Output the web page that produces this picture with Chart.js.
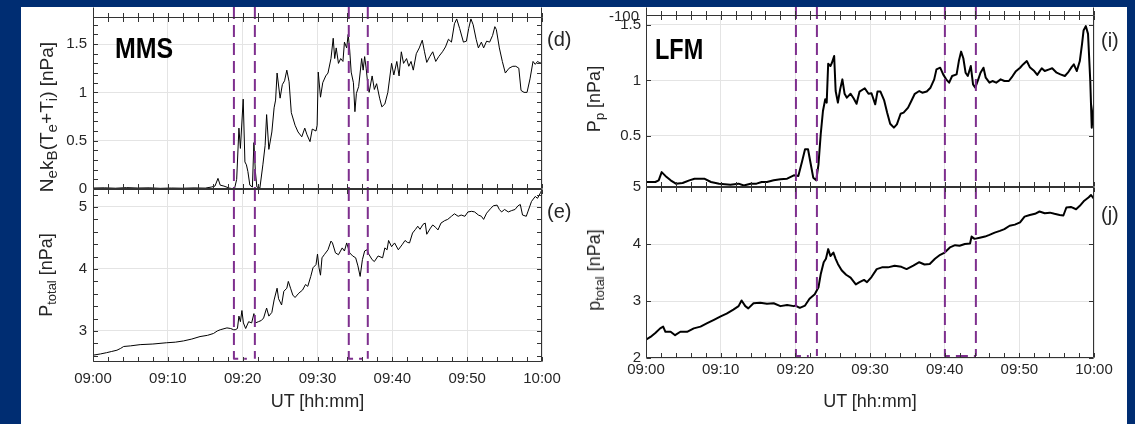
<!DOCTYPE html>
<html>
<head>
<meta charset="utf-8">
<script src="https://cdn.jsdelivr.net/npm/chart.js@4.4.1/dist/chart.umd.min.js"></script>
<style>
  body { margin:0; width:1135px; height:424px; background:#002d72; overflow:hidden; position:relative; }
  #sheet { position:absolute; left:21px; top:7px; width:1106px; height:417px; background:#fff; }
  canvas { position:absolute; }
  .lab { position:absolute; font-family:'Liberation Sans', Arial, sans-serif; color:#262626; white-space:nowrap; line-height:1; }
  .lab sub { font-size:0.72em; vertical-align:-0.32em; line-height:0; }
  .ytitle { font-size:18px; transform:translate(-50%,-50%) rotate(-90deg); }
  .ytitle.big { font-size:19px; }
  .ytitle.big sub { font-size:0.8em; }
  .xtitle { font-size:18px; transform:translateX(-50%); }
  .tag { font-size:20px; }
  .inst { font-size:29px; font-weight:bold; color:#000; transform-origin:0 0; }
</style>
</head>
<body>
<div id="sheet"></div>
<canvas id="cD" width="541" height="192" style="left:21px;top:7px"></canvas>
<canvas id="cE" width="541" height="217" style="left:21px;top:179px"></canvas>
<canvas id="cI" width="540" height="190" style="left:574px;top:7px"></canvas>
<canvas id="cJ" width="540" height="215" style="left:574px;top:177px"></canvas>

<div class="lab inst" style="left:115px;top:34px;transform:scaleX(0.86)">MMS</div>
<div class="lab inst" style="left:655px;top:35px;transform:scaleX(0.81)">LFM</div>
<div class="lab tag" style="left:547px;top:29px">(d)</div>
<div class="lab tag" style="left:547px;top:201px">(e)</div>
<div class="lab tag" style="left:1101px;top:30px">(i)</div>
<div class="lab tag" style="left:1101px;top:204px">(j)</div>
<div class="lab" style="font-size:15px;left:609px;top:8px">-100</div>
<div class="lab ytitle big" style="left:46px;top:117px">N<sub>e</sub>k<sub>B</sub>(T<sub>e</sub>+T<sub>i</sub>) [nPa]</div>
<div class="lab ytitle" style="left:46px;top:275px">P<sub>total</sub> [nPa]</div>
<div class="lab ytitle" style="left:594px;top:99px">P<sub>p</sub> [nPa]</div>
<div class="lab ytitle" style="left:594px;top:270px">p<sub>total</sub> [nPa]</div>
<div class="lab xtitle" style="left:317.5px;top:392px">UT [hh:mm]</div>
<div class="lab xtitle" style="left:870px;top:392px">UT [hh:mm]</div>

<script>
// time axis: minutes after 09:00
const xTickValues = [0, 10, 20, 30, 40, 50, 60];
const xTickLabels = ['09:00', '09:10', '09:20', '09:30', '09:40', '09:50', '10:00'];

const dYTicks = [0, 0.5, 1, 1.5];
const dYLabels = ['0', '0.5', '1', '1.5'];
const eYTicks = [3, 4, 5];
const eYLabels = ['3', '4', '5'];
const iYTicks = [0.5, 1, 1.5];
const iYLabels = ['0.5', '1', '1.5'];
const jYTicks = [2, 3, 4, 5];
const jYLabels = ['2', '3', '4', '5'];

// MMS thermal pressure Ne kB (Te+Ti)
const mmsThermT = [0, 1.5, 3, 4.5, 6, 7.5, 9, 10.5, 12, 13.5, 15, 15.8, 16.3, 16.7, 17.0, 17.5, 18.2, 18.9, 19.2, 19.5,
  19.7, 20.07, 20.3, 20.5, 20.7, 20.96, 21.3, 21.5, 21.7, 21.9, 22.3, 22.7, 23.0, 23.2, 23.5, 23.9, 24.2, 24.4, 24.6, 25.0,
  25.3, 25.6, 25.9, 26.2, 26.5, 27.0, 27.4, 27.9, 28.3, 28.6, 29.0, 29.3, 29.8, 29.95, 30.1, 30.4, 30.7, 31.1, 31.4, 31.8,
  32.1, 32.3, 32.5, 32.8, 33.1, 33.4, 33.6, 33.9, 34.1, 34.3, 34.5, 34.8, 35.0, 35.2, 35.5, 35.9, 36.1, 36.3, 36.5, 36.7,
  36.9, 37.3, 37.6, 37.9, 38.3, 38.6, 39.0, 39.4, 39.9, 40.2, 40.6, 40.9, 41.2, 41.5, 41.9, 42.2, 42.5, 42.8, 43.2, 43.6,
  44.0, 44.3, 44.6, 45.0, 45.4, 45.8, 46.2, 46.7, 47.1, 47.5, 47.9, 48.3, 48.6, 49.0, 49.5, 49.9, 50.2, 50.5, 50.8, 51.2,
  51.5, 51.9, 52.2, 52.6, 53.0, 53.4, 53.7, 53.9, 54.3, 54.7, 55.1, 55.6, 56.1, 56.5, 56.9, 57.2, 57.6, 58.0, 58.4, 58.8,
  59.1, 59.4, 59.8, 60.0];
const mmsThermV = [0.010, 0.012, 0.008, 0.014, 0.010, 0.012, 0.007, 0.010, 0.008, 0.011, 0.009, 0.02, 0.03, 0.11, 0.04, 0.03, 0.01, 0.00, 0.10, 0.63,
  0.42, 0.93, 0.28, 0.25, 0.18, 0.04, 0.02, 0.48, 0.18, 0.02, 0.01, 0.25, 0.45, 0.77, 0.41, 0.59, 0.84, 0.92, 1.20, 0.94,
  1.08, 1.12, 1.23, 1.11, 0.79, 0.66, 0.59, 0.54, 0.63, 0.56, 0.49, 0.62, 0.60, 0.66, 1.21, 0.95, 1.10, 1.17, 1.20, 1.35,
  1.56, 1.35, 1.46, 1.30, 1.35, 1.32, 1.52, 1.46, 1.60, 1.44, 1.21, 1.10, 0.80, 0.99, 1.06, 1.35, 1.23, 1.37, 1.25, 1.10,
  1.00, 1.17, 1.03, 1.09, 0.94, 0.85, 0.88, 1.00, 1.30, 1.18, 1.32, 1.17, 1.42, 1.30, 1.35, 1.27, 1.32, 1.23, 1.40, 1.46,
  1.54, 1.42, 1.31, 1.37, 1.42, 1.32, 1.37, 1.42, 1.47, 1.55, 1.52, 1.71, 1.76, 1.66, 1.52, 1.53, 1.66, 1.76, 1.70, 1.55,
  1.46, 1.52, 1.46, 1.53, 1.52, 1.59, 1.68, 1.65, 1.46, 1.32, 1.20, 1.25, 1.27, 1.27, 1.25, 1.02, 1.00, 1.00, 1.14, 1.32,
  1.29, 1.32, 1.30, 1.33];

// MMS total pressure
const mmsTotT = [0, 1.0, 1.8, 2.5, 3.2, 3.7, 4.1, 5.0, 6.3, 8.0, 9.8, 11.0, 12.1, 13.2, 14.3, 15.3, 16.1, 16.6, 17.0, 17.9,
  18.4, 18.8, 19.0, 19.3, 19.5, 19.7, 19.9, 20.1, 20.4, 20.8, 21.2, 21.5, 21.7, 22.1, 22.5, 22.8, 23.2, 23.5, 23.9, 24.2,
  24.6, 24.8, 25.2, 25.5, 25.9, 26.1, 26.4, 26.7, 27.0, 27.5, 28.0, 28.4, 28.7, 29.1, 29.4, 29.8, 30.0, 30.2, 30.4, 30.6,
  30.9, 31.4, 31.8, 32.0, 32.4, 32.8, 33.3, 33.6, 33.9, 34.3, 34.7, 35.1, 35.4, 35.7, 36.0, 36.3, 36.6, 36.9, 37.3, 37.6,
  38.1, 38.7, 39.0, 39.3, 39.5, 39.9, 40.3, 40.8, 41.3, 41.7, 42.0, 42.3, 42.7, 43.1, 43.4, 43.7, 44.1, 44.4, 44.6, 45.1,
  45.4, 45.8, 46.1, 46.5, 47.0, 47.4, 47.9, 48.3, 48.8, 49.2, 49.7, 50.1, 50.6, 51.0, 51.5, 51.9, 52.2, 52.6, 53.1, 53.5,
  54.0, 54.3, 54.6, 55.0, 55.5, 55.9, 56.4, 56.8, 57.1, 57.4, 57.9, 58.1, 58.6, 59.1, 59.4, 59.8, 60.0];
const mmsTotV = [2.61, 2.63, 2.65, 2.67, 2.69, 2.72, 2.75, 2.76, 2.78, 2.79, 2.81, 2.82, 2.84, 2.87, 2.91, 2.93, 2.96, 3.00, 3.02, 3.05,
  3.04, 3.02, 3.02, 3.04, 3.24, 3.15, 3.33, 3.13, 3.04, 3.15, 3.13, 3.28, 3.13, 3.15, 3.17, 3.21, 3.37, 3.24, 3.30, 3.50,
  3.69, 3.52, 3.42, 3.64, 3.69, 3.80, 3.69, 3.58, 3.54, 3.61, 3.66, 3.75, 3.72, 3.88, 4.02, 4.07, 4.24, 4.02, 3.90, 4.18,
  4.23, 4.31, 4.45, 4.42, 4.26, 4.23, 4.34, 4.29, 4.42, 4.26, 4.21, 4.18, 4.05, 3.88, 4.15, 4.29, 4.31, 4.23, 4.15, 4.12,
  4.21, 4.18, 4.34, 4.31, 4.46, 4.36, 4.42, 4.31, 4.39, 4.46, 4.43, 4.42, 4.58, 4.64, 4.69, 4.64, 4.72, 4.74, 4.56, 4.66,
  4.71, 4.67, 4.63, 4.74, 4.78, 4.80, 4.85, 4.89, 4.85, 4.87, 4.85, 4.92, 4.93, 4.92, 4.87, 4.85, 4.80, 4.90, 4.97, 5.02,
  5.03, 4.96, 4.92, 4.96, 4.92, 4.94, 4.96, 5.02, 5.04, 4.87, 4.85, 4.92, 5.09, 5.17, 5.14, 5.23, 5.28];

// LFM plasma pressure
const lfmPlasT = [0, 1.25, 1.7, 2.1, 2.6, 3.3, 4.0, 4.9, 5.8, 6.5, 7.8, 8.7, 9.8, 11.3, 12.4, 13.1, 14.0, 14.8, 15.5, 16.2,
  17.1, 18.0, 18.9, 19.8, 20.4, 20.9, 21.3, 21.7, 22.0, 22.4, 22.8, 23.1, 23.4, 23.7, 24.0, 24.2, 24.4, 24.7, 24.9, 25.2,
  25.4, 25.7, 26.0, 26.3, 26.6, 26.9, 27.4, 27.8, 28.2, 28.6, 29.3, 29.8, 30.2, 30.7, 31.0, 31.4, 31.9, 32.3, 32.7, 33.2,
  33.6, 34.1, 34.5, 35.1, 35.5, 36.0, 36.6, 37.0, 37.6, 38.1, 38.6, 38.9, 39.4, 39.8, 40.2, 40.6, 41.0, 41.6, 41.9, 42.2,
  42.5, 42.8, 43.1, 43.5, 43.8, 44.1, 44.5, 44.8, 45.2, 45.5, 46.0, 46.4, 46.9, 47.5, 48.0, 48.6, 49.1, 49.5, 50.1, 50.5,
  51.0, 51.4, 52.0, 52.4, 53.0, 53.4, 54.0, 54.4, 55.0, 55.5, 56.1, 56.5, 57.0, 57.3, 57.7, 58.1, 58.4, 58.6, 58.9, 59.2,
  59.5, 59.7, 59.8, 60.0];
const lfmPlasV = [0.084, 0.085, 0.10, 0.174, 0.14, 0.10, 0.07, 0.076, 0.10, 0.115, 0.115, 0.085, 0.07, 0.06, 0.07, 0.054, 0.07, 0.07, 0.085, 0.085,
  0.10, 0.11, 0.115, 0.145, 0.14, 0.27, 0.38, 0.38, 0.27, 0.124, 0.10, 0.244, 0.515, 0.725, 0.83, 0.80, 1.15, 1.13, 1.16, 1.22,
  0.905, 0.80, 0.92, 1.01, 0.88, 0.845, 0.88, 0.84, 0.79, 0.90, 0.93, 0.88, 0.885, 0.785, 0.90, 0.90, 0.82, 0.71, 0.61, 0.575,
  0.605, 0.70, 0.71, 0.755, 0.81, 0.88, 0.905, 0.89, 0.90, 0.935, 1.01, 1.10, 1.115, 1.055, 1.01, 0.98, 1.04, 1.055, 1.175, 1.26,
  1.20, 1.07, 1.04, 1.13, 0.965, 0.935, 1.01, 1.07, 1.115, 1.025, 0.98, 0.995, 0.98, 1.01, 0.995, 0.995, 1.04, 1.08, 1.115, 1.145,
  1.175, 1.12, 1.085, 1.05, 1.11, 1.085, 1.10, 1.11, 1.07, 1.055, 1.04, 1.07, 1.12, 1.145, 1.085, 1.175, 1.33, 1.45, 1.49, 1.42,
  0.995, 0.575, 0.67, 0.79];

// LFM total pressure
const lfmTotT = [0, 0.6, 1.25, 1.9, 2.3, 2.6, 3.3, 3.9, 4.6, 5.5, 6.4, 7.3, 8.2, 9.1, 10.0, 10.8, 11.7, 12.4, 12.8, 13.3,
  13.7, 14.4, 15.3, 16.2, 17.1, 18.0, 18.9, 19.8, 20.0, 20.6, 21.3, 21.9, 22.6, 23.1, 23.4, 23.8, 24.1, 24.4, 24.7, 25.1,
  25.4, 25.7, 26.2, 26.8, 27.4, 28.1, 28.6, 29.2, 29.6, 30.2, 30.9, 31.6, 32.4, 33.3, 34.2, 34.9, 35.8, 36.6, 37.3, 38.0,
  38.7, 39.4, 40.0, 40.7, 41.4, 42.0, 42.7, 43.4, 43.6, 44.0, 44.7, 45.4, 46.0, 46.7, 47.4, 48.0, 48.7, 49.4, 50.1, 50.7,
  51.4, 52.1, 52.7, 53.4, 54.1, 54.7, 55.4, 55.9, 56.3, 56.9, 57.6, 58.1, 58.7, 59.3, 59.6, 60.0];
const lfmTotV = [2.32, 2.37, 2.44, 2.52, 2.55, 2.46, 2.46, 2.40, 2.46, 2.46, 2.52, 2.55, 2.61, 2.67, 2.73, 2.78, 2.85, 2.91, 3.01, 2.91,
  2.87, 2.96, 2.97, 2.95, 2.96, 2.91, 2.93, 2.91, 2.92, 2.88, 2.92, 3.04, 3.12, 3.24, 3.47, 3.68, 3.74, 3.91, 3.79, 3.85,
  3.74, 3.65, 3.54, 3.46, 3.41, 3.29, 3.33, 3.37, 3.33, 3.42, 3.56, 3.59, 3.59, 3.62, 3.60, 3.56, 3.62, 3.68, 3.64, 3.65,
  3.74, 3.81, 3.85, 3.94, 3.98, 3.97, 4.00, 4.01, 4.13, 4.09, 4.11, 4.13, 4.16, 4.20, 4.23, 4.26, 4.32, 4.34, 4.38, 4.48,
  4.51, 4.53, 4.57, 4.54, 4.55, 4.53, 4.51, 4.50, 4.64, 4.65, 4.61, 4.67, 4.76, 4.82, 4.86, 4.79];

// event windows (minutes after 09:00): start line, end line, end of the visible bottom edge
const mmsWinStart = [18.83, 34.18];
const mmsWinEnd = [21.63, 36.72];
const mmsWinBase = [20.56, 36.05];
const lfmWinStart = [20.08, 40.03];
const lfmWinEnd = [22.89, 44.18];
const lfmWinBase = [21.8, 44.18];

Chart.defaults.font.family = "'Liberation Sans', Arial, sans-serif";
Chart.defaults.font.size = 15;
Chart.defaults.color = '#262626';

const zip = (t, v) => t.map((x, i) => ({ x: x, y: v[i] }));

// MATLAB-like box with inward tick marks
const boxPlugin = {
  id: 'matBox',
  afterDatasetsDraw(chart, args, o) {
    const { ctx, chartArea: a, scales: { x, y } } = chart;
    const L = Math.round(a.left) + 0.5, R = Math.round(a.right) - 0.5;
    const T = Math.round(a.top) + 0.5, B = Math.round(a.bottom) - 0.5;
    const tl = 4.5;
    ctx.save();
    ctx.strokeStyle = '#333';
    ctx.lineWidth = 1;
    ctx.beginPath();
    ctx.rect(L, T, R - L, B - T);
    if (o.extendTop) {
      ctx.moveTo(L, T - o.extendTop); ctx.lineTo(L, T);
      ctx.moveTo(R, T - o.extendTop); ctx.lineTo(R, T);
    }
    for (let v = x.min; v <= x.max + 1e-9; v += o.xMinor) {
      const px = Math.round(x.getPixelForValue(v)) + 0.5;
      ctx.moveTo(px, B); ctx.lineTo(px, B - tl);
      ctx.moveTo(px, T); ctx.lineTo(px, T + tl);
      if (o.extendTop) { ctx.moveTo(px, T); ctx.lineTo(px, T - tl); }
    }
    const ys = y.ticks.map(t => t.value);
    if (o.yMinor) {
      for (let v = Math.ceil(y.min / o.yMinor) * o.yMinor; v <= y.max + 1e-9; v += o.yMinor) ys.push(v);
    }
    ys.forEach(v => {
      const py = Math.round(y.getPixelForValue(v)) + 0.5;
      ctx.moveTo(L, py); ctx.lineTo(L + tl, py);
      ctx.moveTo(R, py); ctx.lineTo(R - tl, py);
    });
    ctx.stroke();
    ctx.restore();
  }
};

const purple = '#7e2f8e';

function panel(id, p) {
  const datasets = [{
    data: zip(p.t, p.v), borderColor: '#000', borderWidth: p.lw, order: 1
  }];
  const top = p.yMax + (p.yMax - p.yMin) * (p.extendTop || 0) / p.plotH;
  p.winStart.forEach((s, i) => {
    const base = p.withBase ? p.baseY : p.yMin;
    const first = p.withBase ? [{ x: s, y: top }, { x: s, y: base }, { x: p.winBase[i], y: base }]
                             : [{ x: s, y: top }, { x: s, y: base }];
    datasets.push({ data: first, borderColor: purple, borderWidth: 2, borderDash: [12, 6], clip: false, order: 0 });
    datasets.push({ data: [{ x: p.winEnd[i], y: top }, { x: p.winEnd[i], y: p.withBase ? base : p.yMin }],
      borderColor: purple, borderWidth: 2, borderDash: [12, 6], clip: false, order: 0 });
  });

  new Chart(document.getElementById(id), {
    type: 'line',
    data: { datasets },
    options: {
      responsive: false,
      animation: false,
      events: [],
      layout: { padding: p.pad },
      elements: { point: { radius: 0 }, line: { tension: 0, borderJoinStyle: 'round' } },
      plugins: {
        legend: { display: false },
        tooltip: { enabled: false },
        matBox: { xMinor: 2, yMinor: p.yMinor, extendTop: p.extendTop }
      },
      scales: {
        x: {
          type: 'linear', min: 0, max: 60,
          grid: { color: '#e4e4e4', drawTicks: false },
          border: { display: false },
          ticks: { display: p.xLabels, padding: p.xPad, maxRotation: 0, autoSkip: false,
                   callback: (v, i) => xTickLabels[i] },
          afterBuildTicks: s => { s.ticks = xTickValues.map(v => ({ value: v })); },
          afterFit: s => { s.height = p.xLabels ? 34 : 0; s.paddingLeft = 0; s.paddingRight = 0; }
        },
        y: {
          type: 'linear', min: p.yMin, max: p.yMax,
          grid: { color: '#e4e4e4', drawTicks: false },
          border: { display: false },
          ticks: { padding: p.yPad, callback: (v, i) => p.yLabels[i] },
          afterBuildTicks: s => { s.ticks = p.yTicks.map(v => ({ value: v })); },
          afterFit: s => { s.width = 72; s.paddingTop = 0; s.paddingBottom = 0; }
        }
      }
    },
    plugins: [boxPlugin]
  });
}

panel('cD', { t: mmsThermT, v: mmsThermV, lw: 1, yMin: 0, yMax: 1.78, yTicks: dYTicks, yLabels: dYLabels,
  yMinor: 0.1, extendTop: 10, plotH: 172, pad: { top: 10, right: 20, bottom: 10, left: 0 },
  xLabels: false, xPad: 8, yPad: 6, winStart: mmsWinStart, winEnd: mmsWinEnd });
panel('cE', { t: mmsTotT, v: mmsTotV, lw: 1, yMin: 2.5, yMax: 5.29, yTicks: eYTicks, yLabels: eYLabels,
  yMinor: 0.2, plotH: 173, pad: { top: 10, right: 20, bottom: 0, left: 0 },
  xLabels: true, xPad: 8, yPad: 6, winStart: mmsWinStart, winEnd: mmsWinEnd, winBase: mmsWinBase,
  withBase: true, baseY: 2.553 });
panel('cI', { t: lfmPlasT, v: lfmPlasV, lw: 2, yMin: 0.04, yMax: 1.59, yTicks: iYTicks, yLabels: iYLabels,
  yMinor: 0, extendTop: 8, plotH: 172, pad: { top: 8, right: 20, bottom: 10, left: 0 },
  xLabels: false, xPad: 3, yPad: 5, winStart: lfmWinStart, winEnd: lfmWinEnd });
panel('cJ', { t: lfmTotT, v: lfmTotV, lw: 2, yMin: 2, yMax: 5, yTicks: jYTicks, yLabels: jYLabels,
  yMinor: 0, plotH: 171, pad: { top: 10, right: 20, bottom: 0, left: 0 },
  xLabels: true, xPad: 3, yPad: 5, winStart: lfmWinStart, winEnd: lfmWinEnd, winBase: lfmWinBase,
  withBase: true, baseY: 2.035 });
</script>
</body>
</html>
